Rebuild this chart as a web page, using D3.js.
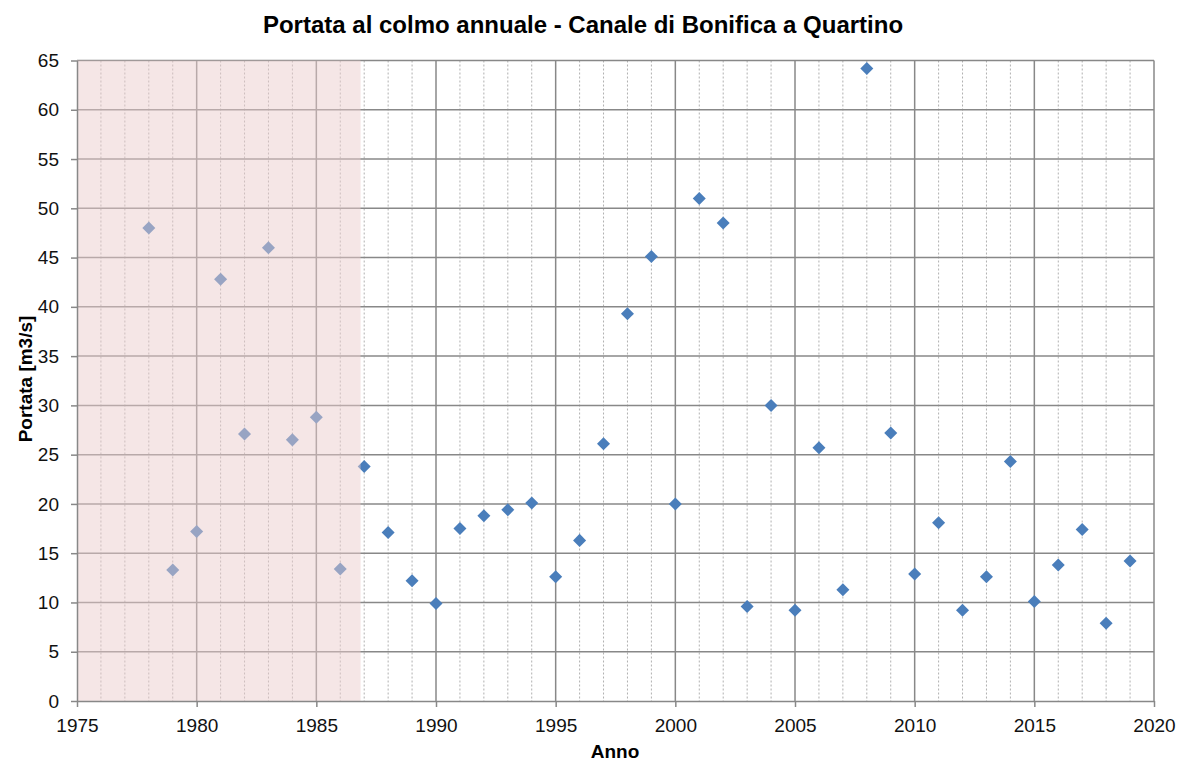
<!DOCTYPE html>
<html>
<head>
<meta charset="utf-8">
<script src="https://cdn.jsdelivr.net/npm/d3@7"></script>
<style>
  body { margin: 0; background: #fff; }
  text { font-family: "Liberation Sans", Arial, sans-serif; }
</style>
</head>
<body>
<svg id="chart" width="1179" height="761"></svg>
<script>
const years = [1978,1979,1980,1981,1982,1983,1984,1985,1986,1987,1988,1989,1990,1991,1992,1993,1994,1995,1996,1997,1998,1999,2000,2001,2002,2003,2004,2005,2006,2007,2008,2009,2010,2011,2012,2013,2014,2015,2016,2017,2018,2019];
const portata = [48.0,13.3,17.2,42.8,27.1,46.0,26.5,28.8,13.4,23.8,17.1,12.2,9.9,17.5,18.8,19.4,20.1,12.6,16.3,26.1,39.3,45.1,20.0,51.0,48.5,9.6,30.0,9.2,25.7,11.3,64.2,27.2,12.9,18.1,9.2,12.6,24.3,10.1,13.8,17.4,7.9,14.2];
const xTicks = [1975,1980,1985,1990,1995,2000,2005,2010,2015,2020];
const yTicks = [0,5,10,15,20,25,30,35,40,45,50,55,60,65];
const shadedPeriod = [1975, 1986.85];

const svg = d3.select("#chart");
const L = 77, R = 1154, T = 60.5, B = 701;
const x = d3.scaleLinear().domain([1975, 2020]).range([L, R]);
const y = d3.scaleLinear().domain([0, 65]).range([B, T]);

// minor vertical gridlines (every year)
const minorYears = d3.range(1976, 2020).filter(v => v % 5 !== 0);
svg.append("g").selectAll("line").data(minorYears).join("line")
  .attr("x1", d => x(d)).attr("x2", d => x(d))
  .attr("y1", T).attr("y2", B)
  .attr("stroke", "#b0b0b0").attr("stroke-width", 1)
  .attr("stroke-dasharray", "2,2");

// major gridlines
svg.append("g").selectAll("line").data(xTicks.slice(1, -1)).join("line")
  .attr("x1", d => x(d)).attr("x2", d => x(d))
  .attr("y1", T).attr("y2", B)
  .attr("stroke", "#888").attr("stroke-width", 1.5);
svg.append("g").selectAll("line").data(yTicks.slice(1)).join("line")
  .attr("x1", L).attr("x2", R)
  .attr("y1", d => y(d)).attr("y2", d => y(d))
  .attr("stroke", "#888").attr("stroke-width", 1.5);
// right border
svg.append("line").attr("x1", R).attr("x2", R).attr("y1", T).attr("y2", B)
  .attr("stroke", "#888").attr("stroke-width", 1.5);

// points
svg.append("g").selectAll("path").data(years).join("path")
  .attr("d", d3.symbol().type(d3.symbolDiamond2).size(108))
  .attr("transform", (d, i) => `translate(${x(d)},${y(portata[i])})`)
  .attr("fill", "#4a7ebb");

// shaded period overlay
svg.append("rect")
  .attr("x", x(shadedPeriod[0])).attr("width", x(shadedPeriod[1]) - x(shadedPeriod[0]))
  .attr("y", T).attr("height", B - T)
  .attr("fill", "rgb(235,204,204)").attr("fill-opacity", 0.49);

// axes
const xAxis = d3.axisBottom(x).tickValues(xTicks).tickFormat(d3.format("d")).tickSize(6).tickSizeOuter(0);
const gx = svg.append("g").attr("transform", `translate(0,${B})`).call(xAxis);
gx.select(".domain").attr("stroke", "#888").attr("stroke-width", 1.5);
gx.selectAll(".tick line").attr("stroke", "#888").attr("stroke-width", 1.5);
gx.selectAll(".tick text").attr("font-size", 19).attr("fill", "#111")
  .attr("y", 31).attr("dy", null)
  .attr("font-family", "Liberation Sans, Arial, sans-serif");

const yAxis = d3.axisLeft(y).tickValues(yTicks).tickSize(6).tickSizeOuter(0);
const gy = svg.append("g").attr("transform", `translate(${L},0)`).call(yAxis);
gy.select(".domain").attr("stroke", "#888").attr("stroke-width", 1.5);
gy.selectAll(".tick line").attr("stroke", "#888").attr("stroke-width", 1.5);
gy.selectAll(".tick text").attr("font-size", 19).attr("fill", "#111").attr("x", -18)
  .attr("font-family", "Liberation Sans, Arial, sans-serif");

// titles
svg.append("text").attr("x", 583).attr("y", 33).attr("text-anchor", "middle")
  .attr("font-size", 24).attr("font-weight", "bold").attr("fill", "#000")
  .text("Portata al colmo annuale - Canale di Bonifica a Quartino");
svg.append("text").attr("x", 615).attr("y", 758).attr("text-anchor", "middle")
  .attr("font-size", 19).attr("font-weight", "bold").attr("fill", "#000")
  .text("Anno");
svg.append("text").attr("transform", "translate(32,379) rotate(-90)").attr("text-anchor", "middle")
  .attr("font-size", 19).attr("font-weight", "bold").attr("fill", "#000")
  .text("Portata [m3/s]");
</script>
</body>
</html>
